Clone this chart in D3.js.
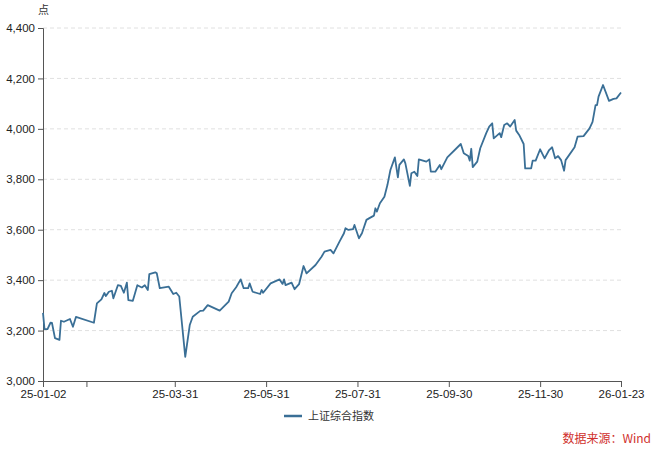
<!DOCTYPE html>
<html><head><meta charset="utf-8">
<script src="https://cdn.jsdelivr.net/npm/d3@7"></script>
<style>body{margin:0;background:#fff;font-family:"Noto Sans CJK SC","Noto Sans",sans-serif;}</style>
</head><body><svg id="chart" width="660" height="450"></svg>
<script>
// days since 2025-01-02 and index close
var dayOffsets = [0,1,3,5,6,8,11,12,14,18,20,22,34,36,39,41,42,44,46,47,50,52,54,56,57,60,63,66,68,70,71,75,76,78,84,87,89,91,95,98,100,105,107,110,118,124,126,129,132,134,137,138,140,145,146,147,152,158,160,161,162,166,168,171,174,176,182,
  186,188,192,194,198,201,202,204,207,208,211,213,216,218,221,222,223,225,228,230,232,235,237,238,241,242,245,246,248,250,251,256,258,259,262,265,266,270,279,281,284,285,286,287,290,292,296,298,300,301,305,306,308,310,312,315,316,318,321,322,326,327,329,332,335,338,340,342,344,346,348,349,355,357,361,365,367,369,370,371,374,378,381,383,386];
var closes = [3270,3206,3206,3231,3230,3170,3163,3239,3235,3246,3215,3254,3231,3308,3324,3349,3337,3354,3358,3328,3380,3377,3350,3390,3321,3318,3380,3371,3380,3361,3424,3431,3427,3368,3374,3345,3350,3335,3096,3222,3255,3278,3279,3301,3279,3315,3348,3372,3403,3368,3368,3387,3354,3345,3361,3350,3387,3403,3385,3403,3380,3390,3364,3384,3456,3427,3460,
  3493,3513,3520,3506,3553,3586,3606,3599,3602,3619,3566,3586,3639,3646,3656,3685,3672,3705,3731,3777,3837,3887,3808,3857,3879,3863,3774,3824,3830,3813,3879,3870,3879,3830,3830,3857,3840,3887,3940,3903,3892,3874,3921,3848,3870,3923,3983,4009,4022,3962,3983,3967,4015,4022,4009,4035,3993,3976,3940,3843,3843,3874,3874,3919,3883,3916,3927,3883,3892,3876,3834,3876,3927,3969,3971,4002,4028,4094,4094,4128,4174,4111,4119,4121,4144];
var xTickDates = ['2025-01-02','2025-01-31','2025-03-31','2025-05-31','2025-07-31','2025-09-30','2025-11-30','2026-01-23'];
var xTickLabels = ['25-01-02','','25-03-31','25-05-31','25-07-31','25-09-30','25-11-30','26-01-23'];
var yTicks = [3000,3200,3400,3600,3800,4000,4200,4400];
var seriesName = '上证综合指数';

var start = new Date(2025, 0, 2);
var data = dayOffsets.map(function(d, i) { return { date: d3.timeDay.offset(start, d), value: closes[i] }; });
var parse = d3.timeParse('%Y-%m-%d');

var margin = { top: 28, left: 43, right: 39, bottom: 69 };
var svg = d3.select('#chart');
var w = 660 - margin.left - margin.right, h = 450 - margin.top - margin.bottom;
var g = svg.append('g').attr('transform', 'translate(' + margin.left + ',' + margin.top + ')');

var x = d3.scaleTime().domain([start, parse('2026-01-23')]).range([0, w]);
var y = d3.scaleLinear().domain([3000, 4400]).range([h, 0]);

g.selectAll('line.grid').data(yTicks.slice(1)).enter().append('line')
  .attr('x1', 0).attr('x2', w).attr('y1', y).attr('y2', y)
  .attr('stroke', '#e0e0e0').attr('stroke-dasharray', '4,3');

var yAxis = g.append('g').call(d3.axisLeft(y).tickValues(yTicks).tickFormat(d3.format(',')).tickSize(5));
var xAxis = g.append('g').attr('transform', 'translate(0,' + h + ')')
  .call(d3.axisBottom(x).tickValues(xTickDates.map(parse)).tickFormat(function(d, i) { return xTickLabels[i]; }).tickSize(6));
[xAxis, yAxis].forEach(function(a) {
  a.selectAll('path,line').attr('stroke', '#555');
  a.selectAll('text').attr('fill', '#222').style('font-size', '11.5px').style('font-family', 'Liberation Sans, Arial, sans-serif');
});

g.append('path').datum(data)
  .attr('fill', 'none').attr('stroke', '#3a6f96').attr('stroke-width', 1.8).attr('stroke-linejoin', 'round')
  .attr('d', d3.line().x(function(d) { return x(d.date); }).y(function(d) { return y(d.value); }));

svg.append('text').attr('x', 38).attr('y', 14).attr('font-size', 11).attr('fill', '#333').text('点');

var lg = svg.append('g').attr('transform', 'translate(284,416)');
lg.append('line').attr('x1', 0).attr('x2', 18).attr('stroke', '#3a6f96').attr('stroke-width', 2.5);
lg.append('text').attr('x', 24).attr('y', 4).attr('font-size', 11).attr('fill', '#333').text(seriesName);

svg.append('text').attr('x', 651).attr('y', 443).attr('text-anchor', 'end').attr('font-size', 12).attr('fill', '#d0312d').text('数据来源：Wind');
</script></body></html>
